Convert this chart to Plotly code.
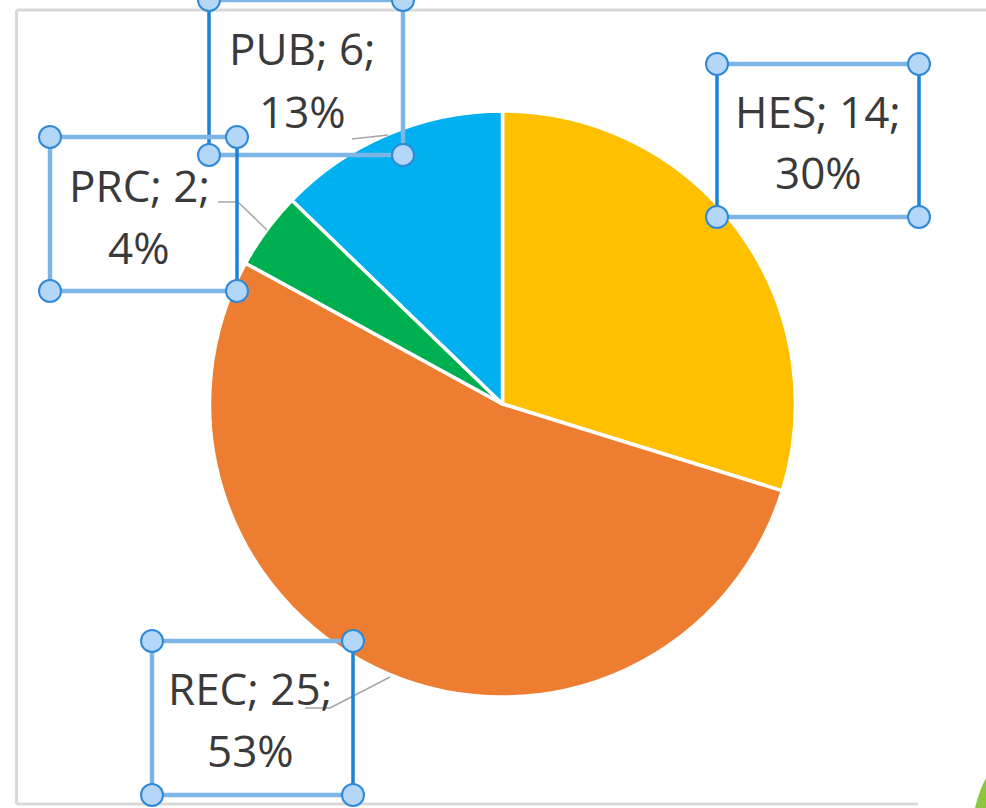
import plotly.graph_objects as go

# ---- data ----
categories = ["HES", "REC", "PRC", "PUB"]
values = [14, 25, 2, 6]
colors = ["#FFC000", "#ED7D31", "#00B050", "#00B0F0"]

total = sum(values)
percents = [round(v * 100 / total) for v in values]

W, H = 986, 808

fig = go.Figure()

# pie: centre (502.5, 404), radius ~293 px
cx, cy, r = 502.5, 404, 293
fig.add_trace(go.Pie(
    labels=categories, values=values, sort=False, direction="clockwise",
    rotation=0, marker=dict(colors=colors, line=dict(color="white", width=3.5)),
    textinfo="none", hoverinfo="skip", showlegend=False,
    domain=dict(x=[(cx - r) / W, (cx + r) / W], y=[(H - cy - r) / H, (H - cy + r) / H]),
))

shapes = []
LIGHT = "#7DB6E6"
DARK = "#1B82D8"
GRAY_BORDER = "#D9D9D9"
LEADER = "#A6A6A6"

def line(x0, y0, x1, y1, color, width):
    shapes.append(dict(type="line", xref="x", yref="y", x0=x0, y0=y0, x1=x1, y1=y1,
                       line=dict(color=color, width=width), layer="above"))

# chart area border
line(16.5, 10, 986, 10, GRAY_BORDER, 3)
line(16.5, 10, 16.5, 804, GRAY_BORDER, 3)
line(16.5, 804, 918, 804, GRAY_BORDER, 3)

# leader lines
line(352, 139, 388, 135, LEADER, 1.5)
line(218, 202, 238, 202, LEADER, 1.5)
line(238, 202, 267, 230, LEADER, 1.5)
line(305, 708, 330, 708, LEADER, 1.5)
line(330, 708, 390, 677, LEADER, 1.5)

# selection boxes: (left, top, right, bottom, dark edges)
boxes = {
    "PUB": (209, 0, 403, 155, ["left"]),
    "PRC": (50, 137, 237, 291, ["right"]),
    "HES": (717, 64, 919, 217, ["left", "right"]),
    "REC": (152, 641, 353, 795, ["right"]),
}
for name, (l, t, rr, b, darks) in boxes.items():
    line(l, t, rr, t, LIGHT, 4.5)
    line(l, b, rr, b, LIGHT, 4.5)
    line(l, t, l, b, DARK if "left" in darks else LIGHT, 3.5 if "left" in darks else 4.5)
    line(rr, t, rr, b, DARK if "right" in darks else LIGHT, 3.5 if "right" in darks else 4.5)

for name, (l, t, rr, b, darks) in boxes.items():
    for (hx, hy) in [(l, t), (rr, t), (l, b), (rr, b)]:
        shapes.append(dict(type="circle", xref="x", yref="y", x0=hx - 11, x1=hx + 11,
                           y0=hy - 11, y1=hy + 11, fillcolor="#B4D6F7",
                           line=dict(color="#2E8AD9", width=2), layer="above"))

# green decorative shape bottom-right
shapes.append(dict(type="path", xref="x", yref="y",
                   path="M 975,808 Q 979,791 986,778 L 986,808 Z",
                   fillcolor="#8CC63F", line=dict(width=0), layer="above"))

# label annotations (two lines each)
label_pos = {
    "PUB": (302, 48, 111),
    "PRC": (139, 185, 247),
    "HES": (818, 111, 172),
    "REC": (250, 688, 750),
}
annotations = []
for cat, val, pct in zip(categories, values, percents):
    x, y1, y2 = label_pos[cat]
    for txt, yy in [(f"{cat}; {val};", y1), (f"{pct}%", y2)]:
        annotations.append(dict(x=x, y=yy, xref="x", yref="y", text=txt, showarrow=False,
                                xanchor="center", yanchor="middle",
                                font=dict(family="Open Sans", size=44, color="#3A3A3A")))

fig.update_layout(
    width=W, height=H, margin=dict(l=0, r=0, t=0, b=0),
    paper_bgcolor="white", plot_bgcolor="rgba(0,0,0,0)",
    xaxis=dict(range=[0, W], visible=False, fixedrange=True),
    yaxis=dict(range=[H, 0], visible=False, fixedrange=True),
    shapes=shapes, annotations=annotations,
)

fig.write_html("out.html", config={"displayModeBar": False},
               post_script="document.body.style.margin='0';document.body.style.overflow='hidden';")
